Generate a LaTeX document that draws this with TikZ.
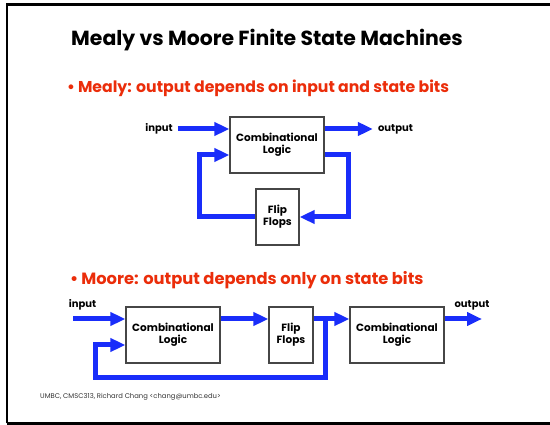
\documentclass[tikz,border=0pt]{standalone}
\usepackage{fontspec}
\setmainfont{Poppins}
\usetikzlibrary{arrows.meta}
\definecolor{wireblue}{RGB}{25,45,250}
\definecolor{headred}{RGB}{235,45,10}
\definecolor{boxgray}{RGB}{70,70,70}
\tikzset{
  blockbox/.style={draw=boxgray, line width=1.2pt, fill=white, align=center,
    font=\fontsize{10.5}{12}\selectfont\bfseries, inner sep=0pt},
  wire/.style={draw=wireblue, line width=5pt, line join=miter},
  arr/.style={wire, -{Triangle[length=15pt,width=13pt]}},
  sig/.style={font=\fontsize{10}{12}\selectfont\bfseries, inner sep=0pt},
  bullet/.style={text=headred, font=\fontsize{15.7}{18}\selectfont\bfseries, inner sep=0pt, anchor=west}
}
\begin{document}
\begin{tikzpicture}[x=1pt, y=-1pt]
\useasboundingbox (0,0) rectangle (550,425);
\fill[white] (0,0) rectangle (550,425);
% slide frame
\draw[line width=2.5pt] (7,423.5) -- (7,4.5) -- (560,4.5);
\draw[line width=2.5pt] (7,423.5) -- (560,423.5);

% headings
\node[inner sep=0pt, font=\fontsize{20.4}{24}\selectfont\bfseries] (title) at (267,40) {Mealy vs Moore Finite State Machines};
\node[bullet] (mealyhead) at (67,88) {\textbullet\hspace{3pt}Mealy: output depends on input and state bits};
\node[bullet, font=\fontsize{16.3}{18}\selectfont\bfseries] (moorehead) at (70,280) {\textbullet\hspace{3pt}Moore: output depends only on state bits};

% ---- Mealy machine ----
\node[blockbox, minimum width=94pt, minimum height=56pt] (mcl) at (277,145) {Combinational\\Logic};
\node[blockbox, minimum width=43pt, minimum height=56pt] (mff) at (277.5,217) {Flip\\Flops};
\node[sig] (minp) at (159,129) {input};
\node[sig] (mout) at (395.5,129) {output};
\coordinate (mr) at (348,217);
\coordinate (ml) at (199,155);
\draw[arr] ([xshift=5pt]minp.east) -- (mcl.west |- minp);
\draw[arr] (mcl.east |- mout) -- ([xshift=-5pt]mout.west);
\draw[arr] ([yshift=-10pt]mcl.east) -| (mr) -- (mff.east);
\draw[arr] (mff.west) -| (ml) -- (mcl.west |- ml);

% ---- Moore machine ----
\node[blockbox, minimum width=94pt, minimum height=56pt] (qcl1) at (173,335) {Combinational\\Logic};
\node[blockbox, minimum width=44pt, minimum height=56pt] (qff) at (291,335) {Flip\\Flops};
\node[blockbox, minimum width=94pt, minimum height=56pt] (qcl2) at (397,335) {Combinational\\Logic};
\node[sig] (qinp) at (82.5,305) {input};
\node[sig] (qoutl) at (472,305) {output};
\coordinate (qin) at (73,319);
\coordinate (qout) at (482,319);
\coordinate (qj) at (325,319);
\coordinate (qfr) at (325,378);
\coordinate (qfl) at (95,345);
\draw[arr] (qin) -- (qcl1.west |- qin);
\draw[arr] (qcl1.east |- qin) -- (qff.west |- qin);
\draw[arr] (qff.east |- qin) -- (qcl2.west |- qin);
\draw[arr] ([yshift=2.5pt]qj) -- (qfr) -| (qfl) -- (qcl1.west |- qfl);
\draw[arr] (qcl2.east |- qin) -- (qout);

% footer
\node[anchor=west, inner sep=0pt, font=\fontsize{6.8}{8}\selectfont, text=black!80] (credit) at (40,397) {UMBC, CMSC313, Richard Chang <chang@umbc.edu>};
\end{tikzpicture}
\end{document}
